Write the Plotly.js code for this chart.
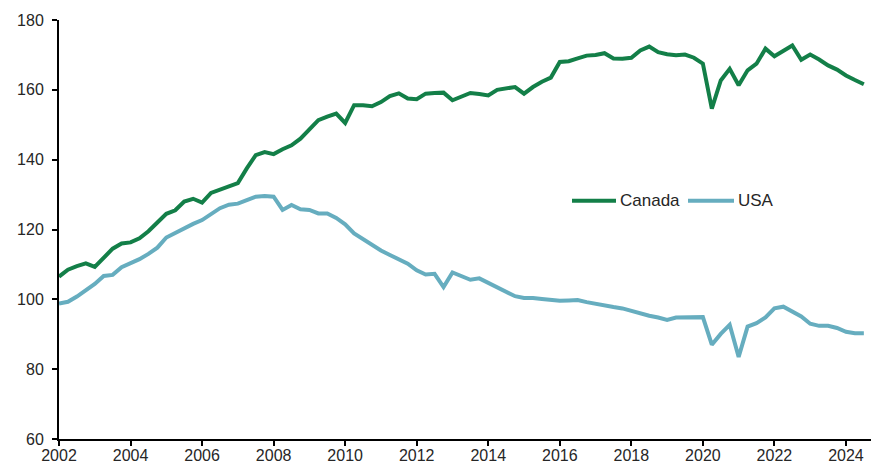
<!DOCTYPE html>
<html>
<head>
<meta charset="utf-8">
<script src="https://cdn.plot.ly/plotly-3.0.1.min.js"></script>
<style>
  html, body { margin: 0; padding: 0; background: #ffffff; }
  #chart { width: 876px; height: 473px; }
</style>
</head>
<body>
<div id="chart"></div>
<script>
// Quarterly index values, 2002 Q1 to 2024 Q3
const startYear = 2002;
const quarterCount = 91;

const canada = [
  106.5, 108.5, 109.5, 110.3, 109.3, 112.0, 114.5, 116.0,
  116.3, 117.5, 119.5, 122.0, 124.5, 125.5, 128.0, 128.8,
  127.7, 130.5, 131.5, 132.5, 133.3, 137.5, 141.3, 142.2,
  141.6, 143.0, 144.1, 146.0, 148.5, 151.3, 152.3, 153.2,
  150.5, 155.6, 155.6, 155.3, 156.5, 158.2, 159.0, 157.5,
  157.3, 158.9, 159.1, 159.2, 157.0, 158.0, 159.1, 158.8,
  158.4, 160.0, 160.3, 160.8, 158.9, 160.8, 162.3, 163.5,
  168.0, 168.2, 169.0, 169.8, 170.0, 170.5, 169.0, 168.9,
  169.2, 171.3, 172.4, 170.8, 170.2, 169.9, 170.1, 169.2,
  167.5, 154.6, 162.7, 166.0, 161.3, 165.6, 167.5, 171.8,
  169.6, 171.0, 172.7, 168.6, 170.1, 168.7, 167.0, 165.8,
  164.1, 162.8, 161.6
];

const usa = [
  98.8, 99.3, 100.8, 102.5, 104.4, 106.7, 107.0, 109.2,
  110.3, 111.5, 113.0, 114.8, 117.7, 119.1, 120.4, 121.6,
  122.7, 124.4, 126.1, 127.1, 127.4, 128.4, 129.4, 129.6,
  129.4, 125.6, 127.0, 125.8, 125.6, 124.6, 124.6, 123.3,
  121.5, 118.9, 117.2, 115.6, 114.0, 112.7, 111.4, 110.2,
  108.3, 107.1, 107.3, 103.5, 107.7, 106.5, 105.6, 106.0,
  104.8, 103.6, 102.1, 100.9, 100.4, 100.4, 100.1, 99.8,
  99.6, 99.7, 99.8, 99.2, 98.7, 98.1, 97.8, 97.4,
  96.7, 95.9, 95.3, 94.8, 94.1, 94.8, 94.9, 94.9,
  94.9, 87.0, 90.1, 92.7, 83.5, 92.2, 93.2, 94.8,
  97.4, 97.9, 96.4, 95.1, 93.0, 92.4, 92.4, 91.8,
  90.7, 90.3, 90.3
];

const xTickVals = [2002, 2004, 2006, 2008, 2010, 2012, 2014, 2016, 2018, 2020, 2022, 2024];
const xTickText = ['2002', '2004', '2006', '2008', '2010', '2012', '2014', '2016', '2018', '2020', '2022', '2024'];
const yTickVals = [60, 80, 100, 120, 140, 160, 180];
const yTickText = ['60', '80', '100', '120', '140', '160', '180'];

const seriesNames = ['Canada', 'USA'];
const seriesColors = ['#137f48', '#66adbf'];

const quarters = [];
for (let i = 0; i < quarterCount; i++) quarters.push(startYear + i * 0.25);

const traces = [
  {
    x: quarters, y: canada, name: seriesNames[0], type: 'scatter', mode: 'lines',
    line: { color: seriesColors[0], width: 4, shape: 'linear' }, showlegend: false
  },
  {
    x: quarters, y: usa, name: seriesNames[1], type: 'scatter', mode: 'lines',
    line: { color: seriesColors[1], width: 4, shape: 'linear' }, showlegend: false
  }
];

const fontFamily = 'Liberation Sans, Arial, sans-serif';
const tickFont = { family: fontFamily, size: 16, color: '#262626' };

// Plot-area geometry in pixels (for placing the legend in paper coordinates)
const W = 876, H = 473;
const M = { l: 59, r: 5, t: 19.5, b: 34 };
const pw = W - M.l - M.r, ph = H - M.t - M.b;
const px2x = p => (p - M.l) / pw;
const py2y = p => (H - M.b - p) / ph;

const legendY = py2y(200.5);
const legendItems = [
  { name: seriesNames[0], color: seriesColors[0], x0: 572, x1: 616, tx: 618 },
  { name: seriesNames[1], color: seriesColors[1], x0: 688, x1: 734, tx: 736 }
];

const shapes = legendItems.map(it => ({
  type: 'line', xref: 'paper', yref: 'paper',
  x0: px2x(it.x0), x1: px2x(it.x1), y0: legendY, y1: legendY,
  line: { color: it.color, width: 4 }
}));

const annotations = legendItems.map(it => ({
  xref: 'paper', yref: 'paper', x: px2x(it.tx), y: legendY,
  xanchor: 'left', yanchor: 'middle', showarrow: false,
  text: it.name, font: { family: fontFamily, size: 17, color: '#262626' }
}));

const layout = {
  width: W, height: H,
  margin: { l: M.l, r: M.r, t: M.t, b: M.b, pad: 0 },
  paper_bgcolor: '#ffffff', plot_bgcolor: '#ffffff',
  showlegend: false,
  shapes: shapes,
  annotations: annotations,
  xaxis: {
    range: [2002, 2024.7], showgrid: false, zeroline: false,
    showline: true, linecolor: '#000000', linewidth: 2,
    ticks: 'outside', ticklen: 5, tickwidth: 2, tickcolor: '#000000',
    tickmode: 'array', tickvals: xTickVals, ticktext: xTickText,
    tickfont: tickFont, ticklabelstandoff: -4, fixedrange: true
  },
  yaxis: {
    range: [60, 180], showgrid: false, zeroline: false,
    showline: true, linecolor: '#000000', linewidth: 2,
    ticks: 'outside', ticklen: 5, tickwidth: 2, tickcolor: '#000000',
    tickmode: 'array', tickvals: yTickVals, ticktext: yTickText,
    tickfont: tickFont, ticklabelstandoff: 5, fixedrange: true
  }
};

Plotly.newPlot('chart', traces, layout, { displayModeBar: false, staticPlot: true });
</script>
</body>
</html>
